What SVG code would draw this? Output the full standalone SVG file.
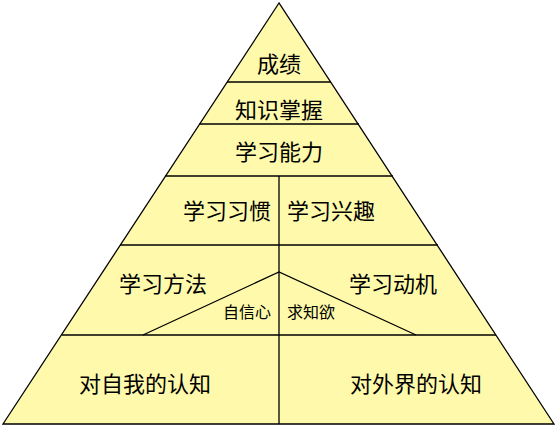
<svg xmlns="http://www.w3.org/2000/svg" width="560" height="426" viewBox="0 0 560 426">
<style>
.ln{stroke:#000;stroke-width:1.3;fill:none}
.t{font-family:"Liberation Sans","Noto Sans CJK SC",sans-serif;font-size:22px;fill:#000}
.s{font-family:"Liberation Sans","Noto Sans CJK SC",sans-serif;font-size:16px;fill:#000}
</style>
<rect width="560" height="426" fill="#fff"/>
<g id="pyramid">
<polygon points="279,3 3,424 554,424" fill="#FFFAAB" stroke="#000" stroke-width="1.3"/>
</g>
<g id="connectors">
<line class="ln" x1="227" y1="82" x2="331" y2="82"/>
<line class="ln" x1="199" y1="124" x2="359" y2="124"/>
<line class="ln" x1="165" y1="176" x2="393" y2="176"/>
<line class="ln" x1="120" y1="245" x2="438" y2="245"/>
<line class="ln" x1="62" y1="335" x2="496" y2="335"/>
<line class="ln" x1="279" y1="176" x2="279" y2="424"/>
<polyline class="ln" points="143,335 279,272 416,335"/>
</g>
<g id="n1"><text class="t" x="279" y="72" text-anchor="middle">成绩</text></g>
<g id="n2"><text class="t" x="279" y="118" text-anchor="middle">知识掌握</text></g>
<g id="n3"><text class="t" x="279" y="160" text-anchor="middle">学习能力</text></g>
<g id="n4"><text class="t" x="271" y="219" text-anchor="end">学习习惯</text></g>
<g id="n5"><text class="t" x="287" y="219">学习兴趣</text></g>
<g id="n6"><text class="t" x="163" y="292" text-anchor="middle">学习方法</text></g>
<g id="n7"><text class="t" x="393" y="292" text-anchor="middle">学习动机</text></g>
<g id="n8"><text class="s" x="271" y="318" text-anchor="end">自信心</text></g>
<g id="n9"><text class="s" x="287" y="318">求知欲</text></g>
<g id="n10"><text class="t" x="145" y="392" text-anchor="middle">对自我的认知</text></g>
<g id="n11"><text class="t" x="416" y="392" text-anchor="middle">对外界的认知</text></g>
</svg>
